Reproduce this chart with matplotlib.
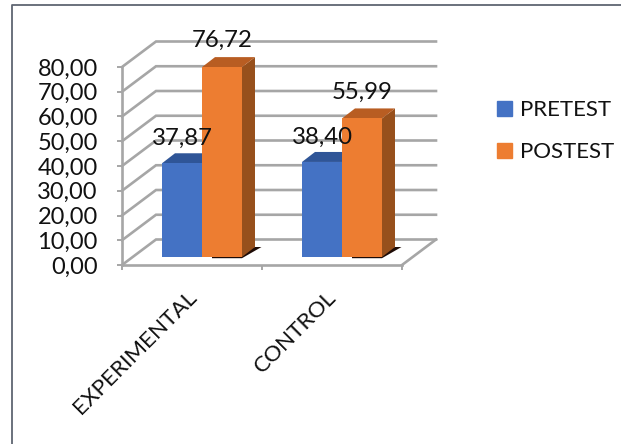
import matplotlib
matplotlib.use("Agg")
import matplotlib.pyplot as plt
from matplotlib.lines import Line2D
from matplotlib.patches import Polygon, Patch
from matplotlib.transforms import ScaledTranslation

categories = ["EXPERIMENTAL", "CONTROL"]
pretest = [37.87, 38.40]
postest = [76.72, 55.99]
pretest_labels = ["37,87", "38,40"]
postest_labels = ["76,72", "55,99"]
y_ticks = [0, 10, 20, 30, 40, 50, 60, 70, 80]
y_tick_labels = ["0,00", "10,00", "20,00", "30,00", "40,00", "50,00", "60,00", "70,00", "80,00"]

W, H = 621, 444
PX_X = 140.0          # pixels per category
PX_Y = 198.0 / 80.0   # pixels per value unit
BLUE, BLUE_TOP = "#4472C4", "#2F5597"
ORANGE, ORANGE_TOP, ORANGE_SIDE = "#ED7D31", "#B85D22", "#97501C"
GRID = "#A6A6A6"

plt.rcParams["font.family"] = ["Lato", "DejaVu Sans"]
fig = plt.figure(figsize=(W / 100, H / 100), dpi=100)
ax = fig.add_axes([122 / W, 1 - 265 / H, 280 / W, 198 / H])
ax.set_xlim(0, 2)
ax.set_ylim(0, 80)
ax.patch.set_visible(False)

# wall and floor depth
wx, wy = 34 / PX_X, 25.5 / PX_Y
for v in y_ticks:
    ax.plot([0, wx, 2 + wx], [v, v + wy, v + wy], color=GRID, lw=1.9,
            clip_on=False, zorder=1, solid_joinstyle="miter")
ax.plot([2, 2 + wx], [0, wy], color=GRID, lw=1.9, clip_on=False, zorder=1)

# bars
bw = 40 / PX_X
base = 8 / PX_Y
dx, dy = 13 / PX_X, 10 / PX_Y
starts = [40 / PX_X, 180 / PX_X]
for i, s in enumerate(starts):
    a, b = pretest[i], postest[i]
    r = s + 2 * bw
    # floor shadow
    ax.add_patch(Polygon([(r - bw * 0.75, base - 0.12 * dy), (r, base - 0.12 * dy),
                          (r + 1.5 * dx, base + dy), (r + dx, base + dy), (r - bw * 0.75, base)],
                         closed=True, fc="#1E0B06", ec="none", zorder=2, clip_on=False))
    ax.add_patch(Polygon([(s, base + a), (s + dx, base + a + dy), (s + bw + dx, base + a + dy), (s + bw, base + a)],
                         closed=True, fc=BLUE_TOP, ec="none", zorder=3, clip_on=False))
    ax.bar(s, a, bw, bottom=base, align="edge", color=BLUE, zorder=3)
    ax.add_patch(Polygon([(r, base), (r + dx, base + dy), (r + dx, base + b + dy), (r, base + b)],
                         closed=True, fc=ORANGE_SIDE, ec="none", zorder=4, clip_on=False))
    ax.add_patch(Polygon([(s + bw, base + b), (s + bw + dx, base + b + dy), (r + dx, base + b + dy), (r, base + b)],
                         closed=True, fc=ORANGE_TOP, ec="none", zorder=4, clip_on=False))
    ax.bar(s + bw, b, bw, bottom=base, align="edge", color=ORANGE, zorder=4)
    ax.annotate(pretest_labels[i], (s + bw / 2, base + a), xytext=(0, 18), textcoords="offset points",
                ha="center", va="center", fontsize=17.3, color="#111111", zorder=6)
    ax.annotate(postest_labels[i], (s + 1.5 * bw, base + b), xytext=(0, 19), textcoords="offset points",
                ha="center", va="center", fontsize=17.3, color="#111111", zorder=6)

# axes
for side in ("top", "right"):
    ax.spines[side].set_visible(False)
for side in ("left", "bottom"):
    ax.spines[side].set_color(GRID)
    ax.spines[side].set_linewidth(1.9)
ax.set_yticks(y_ticks)
ax.set_yticklabels(y_tick_labels, fontsize=17, color="#111111")
ax.set_xticks([0, 1, 2])
ax.set_xticklabels([], minor=False)
ax.tick_params(axis="both", color=GRID, width=1.4, length=3.5)
ax.tick_params(axis="y", pad=14)
ax.set_xticks([0.5, 1.5], minor=True)
labels = ax.set_xticklabels(categories, minor=True, rotation=45, ha="right", rotation_mode="anchor",
                            fontsize=16.2, color="#111111")
ax.tick_params(axis="x", which="minor", length=0, pad=20)
shift = ScaledTranslation(-6 / 100, 6 / 100, fig.dpi_scale_trans)
for lab in labels:
    lab.set_transform(lab.get_transform() + shift)

# legend
handles = [Patch(color=BLUE), Patch(color=ORANGE)]
fig.legend(handles, ["PRETEST", "POSTEST"], loc="upper left",
           bbox_to_anchor=(497 / W, 1 - 100 / H), frameon=False, fontsize=16,
           labelcolor="#111111", handlelength=0.68, handleheight=0.68, handletextpad=0.35,
           labelspacing=1.0, borderaxespad=0, borderpad=0)

# outer frame, open at right and bottom
fig.add_artist(Line2D([12 / W, 12 / W, 1], [0, 1 - 5 / H, 1 - 5 / H], color="#5F6672", lw=1.3,
                      transform=fig.transFigure))
fig.savefig("out.png", dpi=100)
